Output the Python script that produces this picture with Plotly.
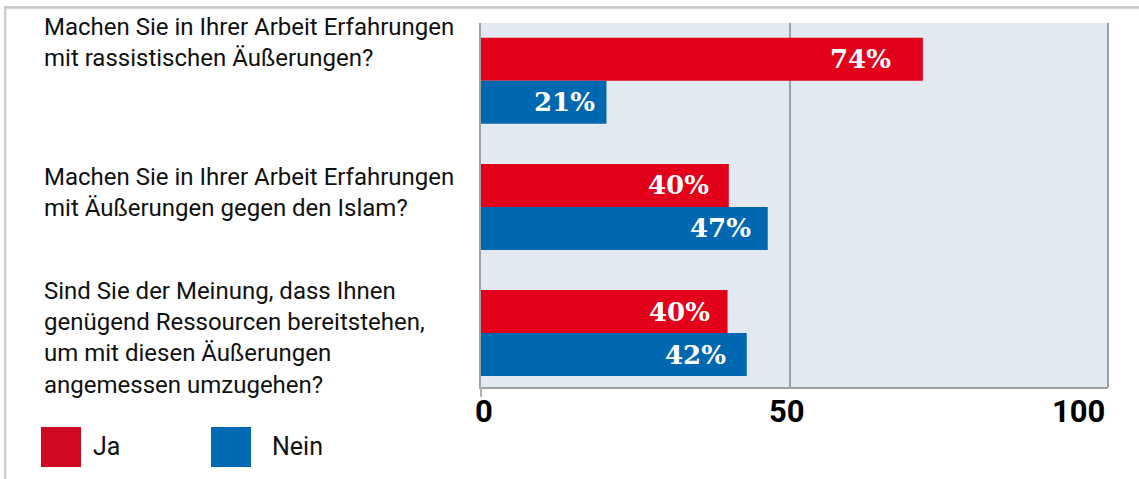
import plotly.graph_objects as go

# ---- data ----
questions = [
    "Machen Sie in Ihrer Arbeit Erfahrungen<br>mit rassistischen Äußerungen?",
    "Machen Sie in Ihrer Arbeit Erfahrungen<br>mit Äußerungen gegen den Islam?",
    "Sind Sie der Meinung, dass Ihnen<br>genügend Ressourcen bereitstehen,<br>um mit diesen Äußerungen<br>angemessen umzugehen?",
]
ja_values = [71.5, 40.1, 39.9]
nein_values = [20.3, 46.4, 43.0]
ja_labels = ["74%", "40%", "40%"]
nein_labels = ["21%", "47%", "42%"]
series_names = ["Ja", "Nein"]
tick_values = [0, 50, 100]
tick_labels = ["0", "50", "100"]

# ---- style ----
W, H = 1139, 479
L, R, T, B = 481, 1108, 23, 387
RED = "#E2001A"
BLUE = "#0068B1"
RED_LEG = "#D00A20"
BLUE_LEG = "#006AB3"
SANS = "Roboto, Liberation Sans, sans-serif"
SERIF = "DejaVu Serif, serif"
ja_shift = [-30, -18, -16]
nein_shift = [-9, -15, -19]


def px(x):
    return (x - L) / (R - L)


def py(y):
    return (B - y) / (B - T)


fig = go.Figure()
fig.add_trace(go.Bar(y=questions, x=ja_values, orientation="h", name=series_names[0],
                     marker=dict(color=RED, line=dict(width=0))))
fig.add_trace(go.Bar(y=questions, x=nein_values, orientation="h", name=series_names[1],
                     marker=dict(color=BLUE, line=dict(width=0))))

ann = []
half = 0.1705
for i, q in enumerate(questions):
    ann.append(dict(x=ja_values[i], y=i - half, xref="x", yref="y", text=ja_labels[i],
                    xanchor="right", yanchor="middle", xshift=ja_shift[i], showarrow=False,
                    font=dict(family=SERIF, size=26, color="white", weight="bold")))
    ann.append(dict(x=nein_values[i], y=i + half, xref="x", yref="y", text=nein_labels[i],
                    xanchor="right", yanchor="middle", xshift=nein_shift[i], showarrow=False,
                    font=dict(family=SERIF, size=26, color="white", weight="bold")))

label_centers = [42, 192, 337.5]
for q, c in zip(questions, label_centers):
    ann.append(dict(x=px(42), y=py(c), xref="paper", yref="paper", text=q, align="left",
                    xanchor="left", yanchor="middle", showarrow=False,
                    font=dict(family=SANS, size=24, color="#111111")))

# tick labels
tick_shift = [2.5, -2.5, 8]
tick_anchor = ["center", "center", "right"]
for v, t, s, a in zip(tick_values, tick_labels, tick_shift, tick_anchor):
    ann.append(dict(x=v, y=py(411), xref="x", yref="paper", text=t, xanchor=a, yanchor="middle",
                    xshift=s, showarrow=False,
                    font=dict(family=SANS, size=31, color="#000000", weight="bold")))

# legend texts
ann.append(dict(x=px(91), y=py(446), xref="paper", yref="paper", text=series_names[0], xanchor="left",
                yanchor="middle", showarrow=False, font=dict(family=SANS, size=25, color="#111111")))
ann.append(dict(x=px(270), y=py(446), xref="paper", yref="paper", text=series_names[1], xanchor="left",
                yanchor="middle", showarrow=False, font=dict(family=SANS, size=25, color="#111111")))

shapes = [
    # legend squares
    dict(type="rect", xref="paper", yref="paper", x0=px(41), x1=px(81), y0=py(467), y1=py(427),
         fillcolor=RED_LEG, line=dict(width=0)),
    dict(type="rect", xref="paper", yref="paper", x0=px(211), x1=px(251), y0=py(467), y1=py(427),
         fillcolor=BLUE_LEG, line=dict(width=0)),
    # outer frame
    dict(type="line", xref="paper", yref="paper", x0=px(4), x1=px(1139), y0=py(7.5), y1=py(7.5),
         line=dict(color="#c8c8c8", width=2.5), layer="above"),
    dict(type="rect", xref="paper", yref="paper", x0=px(4), x1=px(6.5), y0=py(479), y1=py(6.5),
         fillcolor="#cfcfcf", line=dict(width=0)),
    # right border of plot
    dict(type="line", xref="paper", yref="paper", x0=1, x1=1, y0=0, y1=1,
         line=dict(color="#a0a0a0", width=2)),
    # tick under zero
    dict(type="line", xref="paper", yref="paper", x0=0, x1=0, y0=0, y1=py(397),
         line=dict(color="#b0b0b0", width=2)),
]

fig.update_layout(
    width=W, height=H,
    margin=dict(l=L, r=W - R, t=T, b=H - B, pad=0),
    paper_bgcolor="white",
    plot_bgcolor="#E2E9F0",
    barmode="group", bargap=0.318, bargroupgap=0,
    showlegend=False,
    annotations=ann,
    shapes=shapes,
    xaxis=dict(range=[0, 101.46], tickvals=[50], showticklabels=False, showgrid=True,
               gridcolor="#a0a0a0", gridwidth=1.5, zeroline=False, showline=True,
               linecolor="#a0a0a0", linewidth=2, ticks="", fixedrange=True),
    yaxis=dict(range=[2.4277, -0.4578], showticklabels=False, showgrid=False, zeroline=False,
               showline=True, linecolor="#a0a0a0", linewidth=2, ticks="", fixedrange=True),
)

post = (
    "document.documentElement.style.margin='0';"
    "document.body.style.margin='0';document.body.style.overflow='hidden';"
    "var d=document.createElement('div');"
    "d.style.cssText='position:absolute;left:4px;top:6px;width:1135px;height:2px;background:#c8c8c8;z-index:1000;pointer-events:none';"
    "document.body.appendChild(d);"
)
fig.write_html("out.html", config={"displayModeBar": False}, post_script=post)
